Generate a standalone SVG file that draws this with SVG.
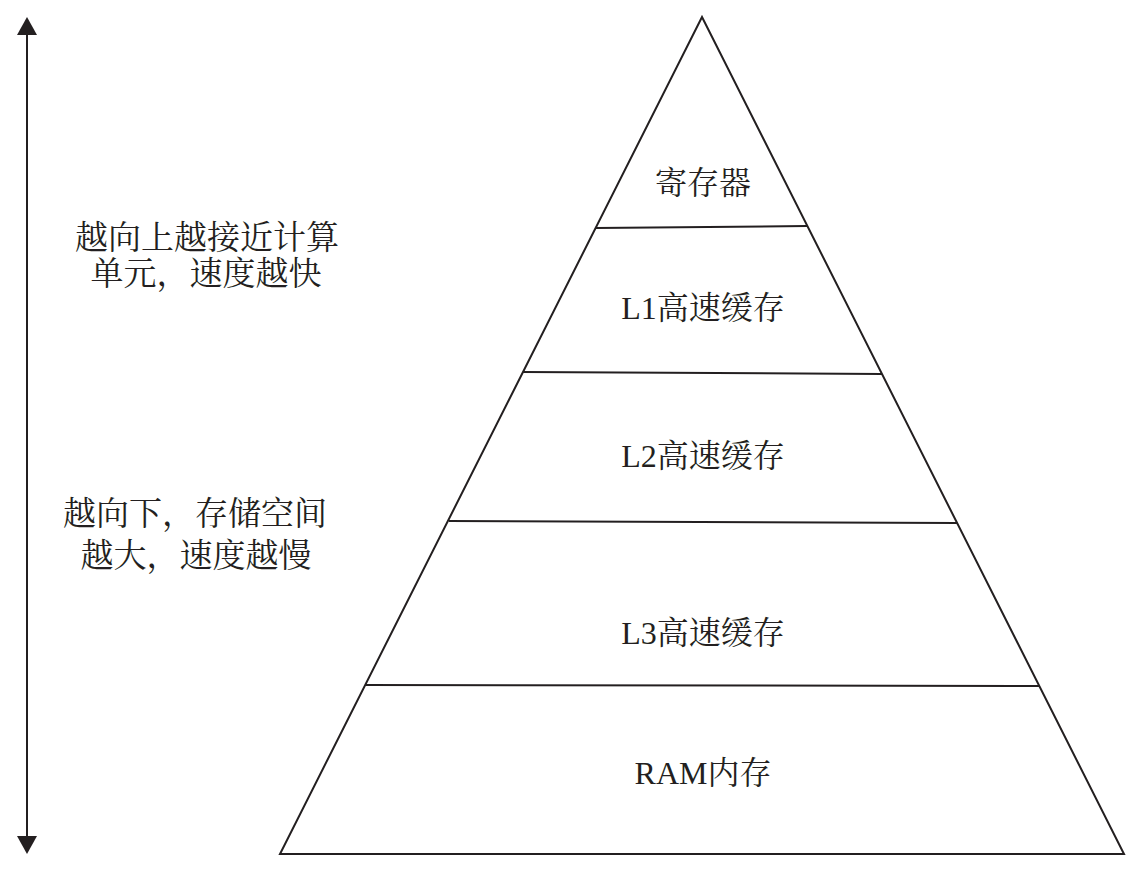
<svg xmlns="http://www.w3.org/2000/svg" width="1137" height="871" viewBox="0 0 1137 871">
  <style>
    .bg { fill: #ffffff; }
    .edge { stroke: #231f20; stroke-width: 2; fill: none; }
    .lbl { font-family: "Liberation Serif", "Noto Serif CJK SC", "Noto Sans CJK SC", serif; fill: #231f20; text-anchor: middle; }
    .tier { font-size: 32px; }
    .note { font-size: 33px; }
  </style>
  <defs>
    <marker id="head" viewBox="0 0 18 20" refX="2" refY="10" markerWidth="18" markerHeight="20" markerUnits="userSpaceOnUse" orient="auto-start-reverse">
      <path d="M0,0 L18,10 L0,20 Z" fill="#231f20"/>
    </marker>
  </defs>
  <rect class="bg" x="0" y="0" width="1137" height="871"/>

  <g id="connectors">
    <line class="edge" x1="27" y1="33" x2="27" y2="838" marker-start="url(#head)" marker-end="url(#head)"/>
  </g>

  <g id="pyramid">
    <polygon class="edge" points="702,17 1124,854 280,854"/>
    <line class="edge" x1="596" y1="228" x2="807" y2="226"/>
    <line class="edge" x1="523" y1="372" x2="882" y2="374"/>
    <line class="edge" x1="449" y1="521" x2="957" y2="523"/>
    <line class="edge" x1="365" y1="685" x2="1039" y2="686"/>
  </g>

  <g id="node-register">
    <text class="lbl tier" x="703" y="194">寄存器</text>
  </g>
  <g id="node-l1">
    <text class="lbl tier" x="703" y="319">L1高速缓存</text>
  </g>
  <g id="node-l2">
    <text class="lbl tier" x="703" y="467">L2高速缓存</text>
  </g>
  <g id="node-l3">
    <text class="lbl tier" x="703" y="644">L3高速缓存</text>
  </g>
  <g id="node-ram">
    <text class="lbl tier" x="703" y="784">RAM内存</text>
  </g>

  <g id="note-up">
    <text class="lbl note" x="207" y="249">越向上越接近计算</text>
    <text class="lbl note" x="206" y="285">单元，速度越快</text>
  </g>
  <g id="note-down">
    <text class="lbl note" x="195" y="525">越向下，存储空间</text>
    <text class="lbl note" x="196" y="567">越大，速度越慢</text>
  </g>
</svg>
